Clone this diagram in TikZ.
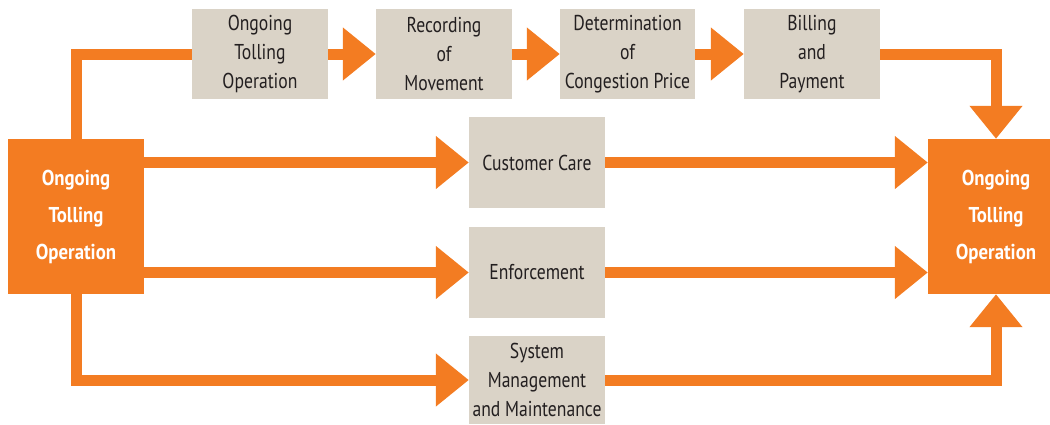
\documentclass[tikz,border=0pt]{standalone}
\usepackage{fontspec}
\setmainfont{PT Sans}[FakeStretch=0.82, BoldFeatures={FakeStretch=0.875}]
\usetikzlibrary{arrows.meta}
\definecolor{org}{HTML}{F37C22}
\definecolor{beige}{HTML}{DAD3C7}
\definecolor{txt}{HTML}{231F20}
\tikzset{
  box/.style={fill=beige, text=txt, minimum width=136pt, minimum height=90pt, align=center, inner sep=0pt, font=\fontsize{21.5}{29}\selectfont},
  obox/.style={fill=org, text=white, minimum width=136pt, minimum height=155pt, align=center, inner sep=0pt, font=\fontsize{21.5}{37}\selectfont\bfseries},
  conn/.style={draw=org, line width=11pt, line join=miter},
  arr/.style={conn, -{Triangle[length=33pt,width=51pt]}}
}
\begin{document}
\begin{tikzpicture}[x=1pt,y=-1pt]
\clip (0,0) rectangle (1050,424);
\useasboundingbox (0,0) rectangle (1050,424);
\node[box] (b1) at (260,54) {Ongoing\\Tolling\\Operation};
\node[box] (b2) at (444,54) {Recording\\of\\Movement};
\node[box, minimum width=135pt] (b3) at (627.5,54) {Determination\\of\\Congestion Price};
\node[box] (b4) at (812,54) {Billing\\and\\Payment};
\node[obox] (L) at (76,216.5) {Ongoing\\Tolling\\Operation};
\node[obox] (R) at (996,216.5) {Ongoing\\Tolling\\Operation};
\node[box, minimum height=91pt] (cc) at (537,162.5) {Customer Care};
\node[box, minimum height=91pt] (en) at (537,272.5) {Enforcement};
\node[box, minimum height=88pt] (sy) at (537,380) {System\\Management\\and Maintenance};
\draw[conn] (L.north) |- (b1.west);
\draw[arr] (b1.east) -- (b2.west);
\draw[arr] (b2.east) -- (b3.west);
\draw[arr] (b3.east) -- (b4.west);
\draw[arr] (b4.east) -| (R.north);
\draw[arr] (L.east |- cc.west) -- (cc.west);
\draw[arr] (L.east |- en.west) -- (en.west);
\draw[arr] (L.south) |- (sy.west);
\draw[arr] (cc.east) -- (cc.east -| R.west);
\draw[arr] (en.east) -- (en.east -| R.west);
\draw[arr] (sy.east) -| (R.south);
\end{tikzpicture}
\end{document}
